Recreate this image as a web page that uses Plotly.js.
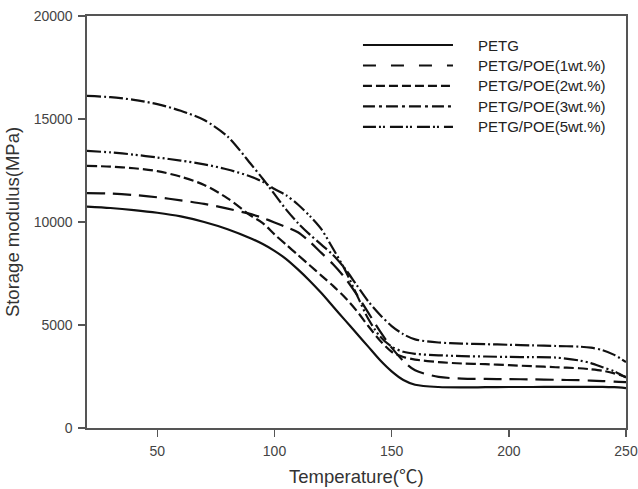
<!DOCTYPE html>
<html>
<head>
<meta charset="utf-8">
<script src="https://cdn.plot.ly/plotly-3.0.1.min.js"></script>
<style>
  html, body { margin: 0; padding: 0; background: #fff; }
  #chart { width: 638px; height: 489px; }
</style>
</head>
<body>
<div id="chart"></div>
<script>
// Temperature sweep (°C)
const temperature = [20, 30, 40, 50, 60, 70, 80, 90, 95, 100, 105, 110, 115, 120, 125, 130,
  135, 140, 145, 150, 155, 160, 170, 180, 190, 200, 210, 220, 230, 235, 240, 245, 250];

// Storage modulus (MPa) for each blend
const petg = [10750, 10680, 10580, 10450, 10270, 10000, 9650, 9200, 8930, 8600, 8200, 7700, 7150, 6550, 5900, 5250,
  4600, 3950, 3300, 2750, 2330, 2100, 1990, 1970, 1980, 1990, 1990, 2000, 2000, 2000, 2000, 1980, 1940];
const poe1 = [11400, 11380, 11310, 11200, 11050, 10880, 10650, 10380, 10200, 9980, 9750, 9500, 9050, 8500, 7950, 7300,
  6500, 5600, 4700, 3900, 3250, 2800, 2480, 2400, 2380, 2370, 2360, 2340, 2320, 2300, 2280, 2250, 2230];
const poe2 = [12720, 12690, 12610, 12470, 12200, 11800, 11150, 10300, 9950, 9400, 8900, 8400, 7900, 7400, 6900, 6350,
  5700, 4950, 4250, 3700, 3450, 3320, 3200, 3130, 3100, 3050, 3000, 2950, 2900, 2850, 2780, 2650, 2480];
const poe3 = [16120, 16060, 15930, 15720, 15400, 14950, 14150, 12800, 12100, 11350, 10600, 9950, 9400, 8900, 8400, 7750,
  6950, 6150, 5500, 4950, 4550, 4300, 4150, 4100, 4070, 4040, 4010, 3980, 3950, 3900, 3780, 3550, 3200];
const poe5 = [13450, 13380, 13270, 13130, 12980, 12800, 12550, 12200, 11950, 11600, 11300, 10850, 10300, 9650, 8700, 7700,
  6500, 5300, 4450, 3950, 3700, 3600, 3530, 3490, 3470, 3450, 3440, 3420, 3280, 3150, 2950, 2750, 2450];

const seriesNames = ['PETG', 'PETG/POE(1wt.%)', 'PETG/POE(2wt.%)', 'PETG/POE(3wt.%)', 'PETG/POE(5wt.%)'];
const xTickVals = [50, 100, 150, 200, 250];
const yTickVals = [0, 5000, 10000, 15000, 20000];
const xTitle = 'Temperature(℃)';
const yTitle = 'Storage modulus(MPa)';

const seriesValues = [petg, poe1, poe2, poe3, poe5];

// Line dash patterns for the curves and for the legend samples
const curveDash = ['solid', '18px,8px', '10px,4px', '14px,3px,2px,3px', '14px,3px,2px,3px,2px,3px'];
const legendDash = ['solid', '13px,15px', '9px,4px', '12px,4px,3px,4px', '13px,3px,2px,2px,2px,5px'];
const ink = '#111';
const textFont = 'Liberation Sans, Arial, Noto Sans CJK SC, sans-serif';

const traces = seriesValues.map((vals, i) => ({
  x: temperature,
  y: vals,
  name: seriesNames[i],
  type: 'scatter',
  mode: 'lines',
  line: { color: ink, width: 2.2, dash: curveDash[i], shape: 'spline', smoothing: 0.8 },
  showlegend: false,
  hoverinfo: 'skip'
}));

// Hand-built legend: long line samples with text on the right
const legendX0 = 0.512, legendX1 = 0.679, legendTextX = 0.722;
const legendTop = 0.9296, legendStep = 0.0497;
const shapes = [];
const annotations = [];
seriesNames.forEach((name, i) => {
  const y = legendTop - i * legendStep;
  shapes.push({
    type: 'line', xref: 'paper', yref: 'paper',
    x0: legendX0, x1: legendX1, y0: y, y1: y,
    line: { color: ink, width: 2.2, dash: legendDash[i] }
  });
  annotations.push({
    xref: 'paper', yref: 'paper', x: legendTextX, y: y,
    xanchor: 'left', yanchor: 'middle', showarrow: false,
    text: name,
    font: { family: textFont, size: 15, color: '#222' }
  });
});

// x-axis title placed low, just above the bottom edge of the figure
annotations.push({
  xref: 'paper', yref: 'paper', x: 0.5, y: -0.117,
  xanchor: 'center', yanchor: 'middle', showarrow: false,
  text: xTitle,
  font: { family: textFont, size: 18.5, color: '#333' }
});

const axisCommon = {
  showgrid: false,
  zeroline: false,
  showline: true,
  linecolor: '#555',
  linewidth: 1.6,
  mirror: true,
  ticks: 'outside',
  ticklen: 7,
  tickwidth: 1.5,
  tickcolor: '#555',
  ticklabelstandoff: 3,
  tickfont: { family: textFont, size: 14, color: '#444' }
};

const layout = {
  width: 638,
  height: 489,
  margin: { l: 87, r: 12, t: 16, b: 61 },
  paper_bgcolor: '#fff',
  plot_bgcolor: '#fff',
  xaxis: Object.assign({}, axisCommon, {
    range: [20, 250],
    tickvals: xTickVals,
    ticktext: xTickVals.map(String)
  }),
  yaxis: Object.assign({}, axisCommon, {
    range: [0, 20000],
    tickvals: yTickVals,
    ticktext: yTickVals.map(String),
    title: { text: yTitle, standoff: 9,
      font: { family: textFont, size: 18.5, color: '#333' } }
  }),
  shapes: shapes,
  annotations: annotations,
  showlegend: false
};

Plotly.newPlot('chart', traces, layout, { displayModeBar: false, staticPlot: true });
</script>
</body>
</html>
